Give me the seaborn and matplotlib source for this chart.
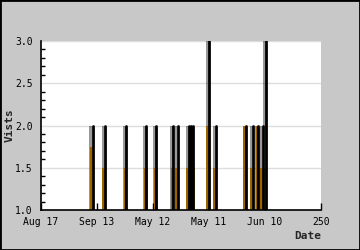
import matplotlib
matplotlib.use("Agg")
import matplotlib.pyplot as plt
import seaborn as sns
import pandas as pd
import numpy as np

# Data (x in day index 0..250)
spike_x = [46, 57, 76, 94, 103, 118, 122, 132, 134, 136, 150, 156, 183, 189, 194, 198, 201]
visits = [2, 2, 2, 2, 2, 2, 2, 2, 2, 2, 3, 2, 2, 2, 2, 2, 3]
orange_vals = [1.75, 1.5, 1.5, 1.5, 1.5, 1.5, 1.5, 1.5, 1.5, 1.5, 2.0, 1.5, 2.0, 1.5, 2.0, 1.5, 1.5]
tick_pos = [0, 50, 100, 150, 200, 250]
tick_labels = ["Aug 17", "Sep 13", "May 12", "May 11", "Jun 10", "250"]
y_ticks = [1.0, 1.5, 2.0, 2.5, 3.0]

sns.set_style("white")
plt.rcParams['font.family'] = ['DejaVu Sans Mono', 'DejaVu Sans']

fig = plt.figure(figsize=(3.6, 2.5), dpi=100, facecolor="#c8c8c8")
ax = fig.add_axes([41/360, 40/250, 280/360, 169/250])
ax.set_facecolor("white")

# frame border of figure
fig.patches.append(plt.Rectangle((0, 0), 1, 1, transform=fig.transFigure,
                                 fill=False, edgecolor="black", linewidth=2))

# orange bars
ax.bar([x - 0.6 for x in spike_x], [v - 1 for v in orange_vals], bottom=1.0,
       width=3.4, color="#ffa500", linewidth=0, zorder=2)
# dark translucent shading
ax.bar([x - 1.6 for x in spike_x], [v - 1 for v in visits], bottom=1.0,
       width=2.4, color="black", alpha=0.4, linewidth=0, zorder=3)

# black spike lines via seaborn
rows = []
for i, (x, v) in enumerate(zip(spike_x, visits)):
    rows.append({"x": x, "y": 1.0, "u": i})
    rows.append({"x": x, "y": v, "u": i})
df = pd.DataFrame(rows)
sns.lineplot(data=df, x="x", y="y", units="u", estimator=None, color="black",
             linewidth=2.0, ax=ax, zorder=4, legend=False)

ax.set_xlim(0, 250)
ax.set_ylim(1.0, 3.0)
ax.set_xticks(tick_pos)
ax.set_xticklabels(tick_labels)
ax.set_yticks(y_ticks)
ax.set_yticklabels([f"{v:.1f}" for v in y_ticks])
ax.set_yticks(np.arange(1.0, 3.01, 0.1), minor=True)
ax.yaxis.grid(True, color="#dddddd", linewidth=1, zorder=0)
ax.set_axisbelow(True)

ax.tick_params(axis="both", which="both", direction="in", colors="black",
               labelsize=7, labelcolor="black")
ax.tick_params(axis="y", which="major", length=3, width=1, pad=6)
ax.tick_params(axis="y", which="minor", length=3, width=1, left=True)
ax.tick_params(axis="x", which="major", length=5, width=1, pad=5, bottom=True)

for s in ["top", "right"]:
    ax.spines[s].set_visible(False)
for s in ["left", "bottom"]:
    ax.spines[s].set_color("black")
    ax.spines[s].set_linewidth(1.2)

ax.set_xlabel("Date", fontsize=8, fontweight="bold", loc="right", labelpad=3)
ax.set_ylabel("Vists", fontsize=8, fontweight="bold", labelpad=2)
ax.yaxis.set_label_coords(-0.094, 0.5)

fig.savefig("out.png", dpi=100, facecolor=fig.get_facecolor())
